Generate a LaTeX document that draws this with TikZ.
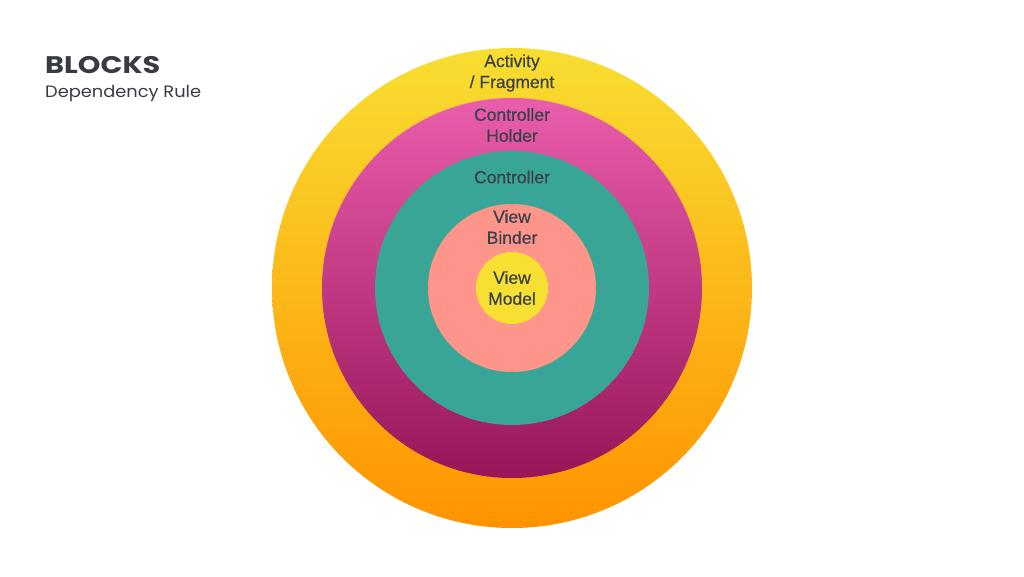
\documentclass[tikz,border=0pt]{standalone}
\usepackage{fontspec}
\setmainfont{Liberation Sans}
\newfontfamily\titlefont[FakeStretch=1.2]{Poppins}
\newfontfamily\subtitlefont[FakeStretch=1.08]{Poppins}
\newfontfamily\tagfont[FakeBold=0.5]{Liberation Sans}
\usepackage{xcolor}
\usetikzlibrary{positioning}

\definecolor{labelgrey}{HTML}{3B414B}
\definecolor{headgrey}{HTML}{383C42}
\definecolor{actTop}{HTML}{F8DE32}
\definecolor{actBot}{HTML}{FF9300}
\definecolor{holderTop}{HTML}{EA5DAC}
\definecolor{holderBot}{HTML}{961659}
\definecolor{ctrlTeal}{HTML}{39A596}
\definecolor{binderPink}{HTML}{FE958B}
\definecolor{vmYellow}{HTML}{F8E033}

\begin{document}
\begin{tikzpicture}[
    x=1pt, y=-1pt,
    ring/.style={circle, inner sep=0pt, minimum size=#1},
    tag/.style={align=center, text=labelgrey,
      font=\tagfont\fontsize{17.5}{21}\selectfont}
  ]
  \useasboundingbox (0,0) rectangle (1024,576);

  % heading
  \node[anchor=base west, inner sep=0pt, text=headgrey,
    font=\titlefont\bfseries\fontsize{24}{24}\selectfont] (title) at (45,73) {BLOCKS};
  \node[anchor=base west, inner sep=0pt, text=headgrey,
    font=\subtitlefont\fontsize{16.5}{16.5}\selectfont] (subtitle) at (45,97) {Dependency Rule};

  % rings, outermost first
  \node[ring=480pt, top color=actTop, bottom color=actBot] (act) at (512,288) {};
  \node[ring=380pt, top color=holderTop, bottom color=holderBot] (holder) at (512,288) {};
  \node[ring=274pt, fill=ctrlTeal] (ctrl) at (512,288) {};
  \node[ring=168pt, fill=binderPink] (binder) at (512,288) {};
  \node[ring=72pt, fill=vmYellow] (vm) at (512,288) {};

  % labels
  \node[tag] (actlbl) at (512,73) {Activity\\/ Fragment};
  \node[tag] (holderlbl) at (512,125) {Controller\\Holder};
  \node[tag] (ctrllbl) at (512,177) {Controller};
  \node[tag] (binderlbl) at (512,227) {View\\Binder};
  \node[tag] (vmlbl) at (vm) {View\\Model};
\end{tikzpicture}
\end{document}
